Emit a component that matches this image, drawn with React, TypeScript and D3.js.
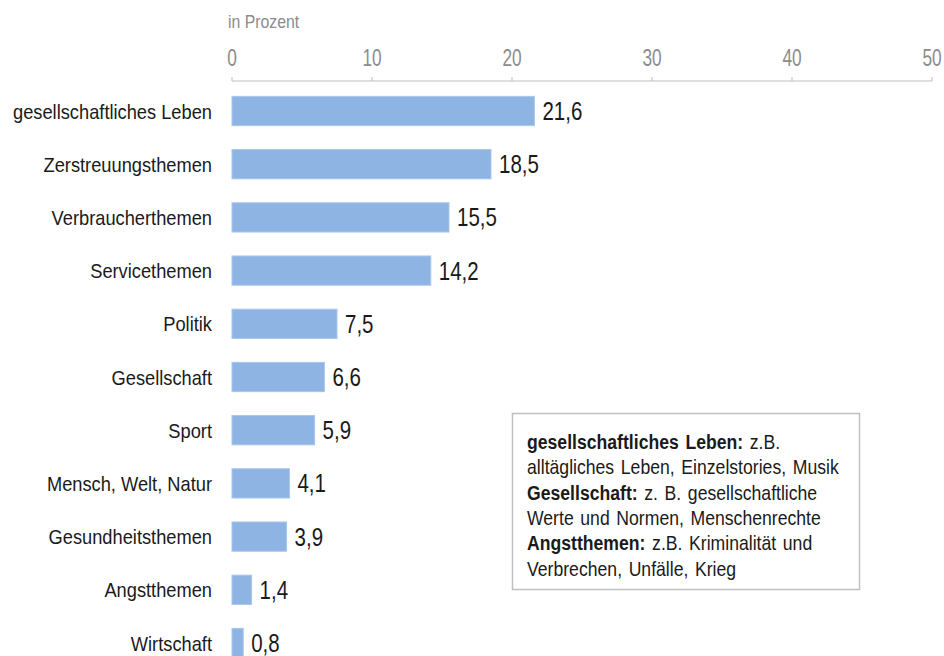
import React from "react";
import * as d3 from "d3";

const categories = [
  "gesellschaftliches Leben",
  "Zerstreuungsthemen",
  "Verbraucherthemen",
  "Servicethemen",
  "Politik",
  "Gesellschaft",
  "Sport",
  "Mensch, Welt, Natur",
  "Gesundheitsthemen",
  "Angstthemen",
  "Wirtschaft",
];
const values = [21.6, 18.5, 15.5, 14.2, 7.5, 6.6, 5.9, 4.1, 3.9, 1.4, 0.8];
const ticks = [0, 10, 20, 30, 40, 50];
const axisTitle = "in Prozent";
const noteLines: { bold: string; rest: string }[] = [
  { bold: "gesellschaftliches Leben:", rest: " z.B." },
  { bold: "", rest: "alltägliches Leben, Einzelstories, Musik" },
  { bold: "Gesellschaft:", rest: " z. B. gesellschaftliche" },
  { bold: "", rest: "Werte und Normen, Menschenrechte" },
  { bold: "Angstthemen:", rest: " z.B. Kriminalität und" },
  { bold: "", rest: "Verbrechen, Unfälle, Krieg" },
];

const FONT = "'Liberation Sans', Arial, sans-serif";

function NText({
  x,
  y,
  sx,
  children,
  ...rest
}: { x: number; y: number; sx: number; children: React.ReactNode; [k: string]: any }) {
  return (
    <g transform={`translate(${x},${y}) scale(${sx},1)`}>
      <text x={0} y={0} {...rest}>
        {children}
      </text>
    </g>
  );
}

export default function App() {
  const x = d3.scaleLinear().domain([0, 50]).range([232, 932]);
  const y = d3
    .scaleBand<string>()
    .domain(categories)
    .range([84.4, 84.4 + 53.2 * categories.length])
    .paddingInner(0.45)
    .paddingOuter(0.225);
  const axisY = 81;

  return (
    <svg
      width={944}
      height={656}
      style={{ position: "absolute", left: 0, top: 0, background: "#fff" }}
      fontFamily={FONT}
    >
      <NText x={228} y={28} sx={0.88} fontSize={18} fill="#8c8c8c">
        {axisTitle}
      </NText>
      {ticks.map((t) => (
        <g key={t}>
          <NText
            x={x(t)}
            y={66}
            sx={0.72}
            fontSize={24}
            fill="#8c8c8c"
            textAnchor="middle"
          >
            {t}
          </NText>
          <line x1={x(t)} x2={x(t)} y1={axisY - 4} y2={axisY} stroke="#bfbfbf" strokeWidth={1} />
        </g>
      ))}
      <line x1={x(0)} x2={x(50)} y1={axisY} y2={axisY} stroke="#bfbfbf" strokeWidth={1} />

      {categories.map((c, i) => {
        const by = y(c)!;
        const bw = y.bandwidth();
        const cy = by + bw / 2;
        return (
          <g key={c}>
            <rect
              x={x(0)}
              y={by}
              width={x(values[i]) - x(0)}
              height={bw}
              fill="#8eb4e3"
              stroke="#a9c6ea"
              strokeWidth={1}
            />
            <NText
              x={212}
              y={cy + 7.5}
              sx={0.87}
              fontSize={21}
              textAnchor="end"
              fill="#1a1a1a"
            >
              {c}
            </NText>
            <NText
              x={x(values[i]) + 8}
              y={cy + 9}
              sx={0.82}
              fontSize={25}
              fill="#1a1a1a"
            >
              {d3.format(".1f")(values[i]).replace(".", ",")}
            </NText>
          </g>
        );
      })}

      <rect x={512.5} y={413.5} width={347} height={176} fill="#fff" stroke="#c0c0c0" strokeWidth={1.5} />
      {noteLines.map((l, i) => (
        <NText key={i} x={527} y={449 + i * 25.3} sx={0.86} fontSize={20.5} fill="#1a1a1a" wordSpacing={2}>
          {l.bold && <tspan fontWeight="bold">{l.bold}</tspan>}
          <tspan>{l.rest}</tspan>
        </NText>
      ))}
    </svg>
  );
}
